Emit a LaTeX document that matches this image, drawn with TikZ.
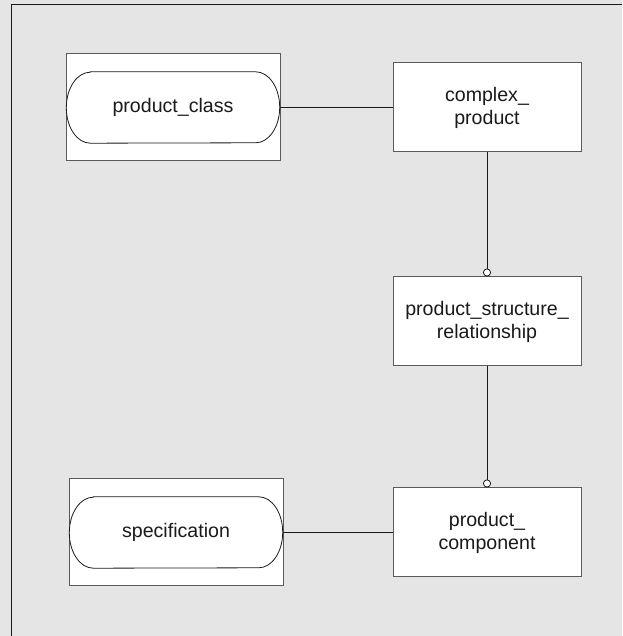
\documentclass[tikz,border=0pt]{standalone}
\usepackage{fontspec}
\setmainfont{Liberation Sans}
\usetikzlibrary{arrows.meta}
\definecolor{bg}{HTML}{E5E5E5}
\definecolor{boxline}{HTML}{5A5A5A}
\definecolor{ink}{HTML}{1A1A1A}
\begin{document}
\begin{tikzpicture}[x=1pt,y=1pt,
  entbox/.style={draw=boxline,line width=1pt,fill=white,minimum width=188pt,minimum height=89pt,inner sep=0pt,align=center,text=ink,font=\fontsize{19.6}{23}\selectfont},
  outerbox/.style={draw=boxline,line width=1pt,fill=white,minimum width=214pt,minimum height=107pt,inner sep=0pt},
  pill/.style={minimum width=213pt,minimum height=71pt,inner sep=0pt,text=ink,font=\fontsize{19.6}{23}\selectfont},
  pillline/.style={draw=ink,line width=0.8pt,fill=white},
  link/.style={draw=ink,line width=0.8pt},
  optlink/.style={link,-{Circle[open,length=8pt,width=8pt,fill=white,line width=0.8pt]}}
]
\useasboundingbox (0,0) rectangle (622,636);
\fill[bg] (0,0) rectangle (622,636);
\draw[ink,line width=1pt] (11,0) -- (11,631) -- (622,631);

% product_class
\node[outerbox] (pcbox) at (173,528.5) {};
\node[pill] (pc) at (173,528.5) {};
\draw[pillline] ([xshift=24pt]pc.north west) -- ([xshift=-24pt]pc.north east)
  arc[start angle=90,end angle=-90,x radius=24pt,y radius=35.5pt]
  -- ([xshift=24pt]pc.south west)
  arc[start angle=270,end angle=90,x radius=24pt,y radius=35.5pt] -- cycle;
\node[pill] at (pc) {product\_class};

% specification
\node[outerbox] (specbox) at (176,103.5) {};
\node[pill] (spec) at (176,103.5) {};
\draw[pillline] ([xshift=24pt]spec.north west) -- ([xshift=-24pt]spec.north east)
  arc[start angle=90,end angle=-90,x radius=24pt,y radius=35.5pt]
  -- ([xshift=24pt]spec.south west)
  arc[start angle=270,end angle=90,x radius=24pt,y radius=35.5pt] -- cycle;
\node[pill] at (spec) {specification};

% entities
\node[entbox] (cp) at (487,528.5) {complex\_\\product};
\node[entbox] (psr) at (487,314.5) {product\_structure\_\\relationship};
\node[entbox] (pcomp) at (487,103.5) {product\_\\component};

% connectors
\draw[link] (pc.east) -- (cp.west);
\draw[link] (spec.east) -- (pcomp.west);
\draw[optlink] (cp.south) -- (psr.north);
\draw[optlink] (psr.south) -- (pcomp.north);
\end{tikzpicture}
\end{document}
